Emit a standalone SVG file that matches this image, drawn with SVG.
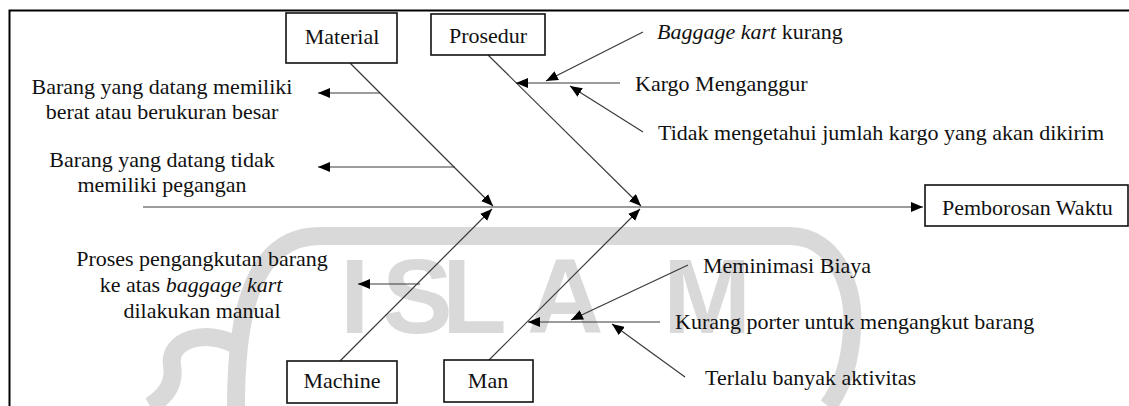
<svg xmlns="http://www.w3.org/2000/svg" width="1129" height="406" viewBox="0 0 1129 406">
<style>
.t{font-family:"Liberation Serif","Times New Roman",serif;font-size:22px;fill:#111}
.c{text-anchor:middle}
.i{font-style:italic}
.box{fill:#fff;stroke:#111;stroke-width:1.6}
.ln{stroke:#3a3a3a;stroke-width:1.2;fill:none}
.wm{fill:none;stroke:#d9d9d9;stroke-width:18}
</style>
<defs>
<marker id="ah" viewBox="0 0 12 10" refX="12" refY="5" markerWidth="12" markerHeight="10" orient="auto" markerUnits="userSpaceOnUse">
<path d="M0,0 L12,5 L0,10 z" fill="#000"/>
</marker>
</defs>
<rect width="1129" height="406" fill="#fff"/>
<g id="watermark">
<path class="wm" d="M236,406 C236,320 250,236 320,236 L790,236 C836,236 856,290 852,330 C850,365 840,390 828,406"/>
<path class="wm" d="M236,345 C205,328 168,340 172,365 C176,388 160,400 150,406"/>
<text x="340 382 442 527 663" y="333" style="font-family:'Liberation Sans',Arial,sans-serif;font-weight:bold;font-size:106px;fill:#d9d9d9">ISLAM</text>
</g>
<path d="M9.5,406 V10.5 H1129" fill="none" stroke="#000" stroke-width="2"/>
<g id="connectors">
<path class="ln" d="M143,207 H923" marker-end="url(#ah)"/>
<path class="ln" d="M350,63 L493,206" marker-end="url(#ah)"/>
<path class="ln" d="M488,55 L641,206" marker-end="url(#ah)"/>
<path class="ln" d="M340,361 L492,209" marker-end="url(#ah)"/>
<path class="ln" d="M489,360 L640,209" marker-end="url(#ah)"/>
<path class="ln" d="M380,93 H318" marker-end="url(#ah)"/>
<path class="ln" d="M455,167 H318" marker-end="url(#ah)"/>
<path class="ln" d="M620,83 H516" marker-end="url(#ah)"/>
<path class="ln" d="M643,32 L546,81" marker-end="url(#ah)"/>
<path class="ln" d="M643,132 L570,86" marker-end="url(#ah)"/>
<path class="ln" d="M420,284 H358" marker-end="url(#ah)"/>
<path class="ln" d="M660,322 H528" marker-end="url(#ah)"/>
<path class="ln" d="M688,265 L571,320" marker-end="url(#ah)"/>
<path class="ln" d="M685,377 L612,324" marker-end="url(#ah)"/>
</g>
<g id="material"><rect class="box" x="286" y="13" width="111" height="50"/><text class="t c" x="342" y="44">Material</text></g>
<g id="prosedur"><rect class="box" x="431" y="14" width="114" height="41"/><text class="t c" x="488" y="43">Prosedur</text></g>
<g id="machine"><rect class="box" x="287" y="361" width="110" height="42"/><text class="t c" x="342" y="388">Machine</text></g>
<g id="man"><rect class="box" x="444" y="360" width="89" height="42"/><text class="t c" x="488" y="388">Man</text></g>
<g id="effect"><rect class="box" x="925" y="185" width="203" height="41"/><text class="t" x="942" y="215">Pemborosan Waktu</text></g>
<g id="cause-material-1"><text class="t c" x="162" y="94">Barang yang datang memiliki</text><text class="t c" x="162" y="119">berat atau berukuran besar</text></g>
<g id="cause-material-2"><text class="t c" x="162" y="167">Barang yang datang tidak</text><text class="t c" x="162" y="192">memiliki pegangan</text></g>
<g id="cause-machine"><text class="t c" x="202" y="266">Proses pengangkutan barang</text><text class="t c" x="191" y="292">ke atas <tspan class="i">baggage kart</tspan></text><text class="t c" x="202" y="318">dilakukan manual</text></g>
<g id="cause-prosedur"><text class="t" x="635" y="91">Kargo Menganggur</text></g>
<g id="sub-baggage"><text class="t" x="657" y="39"><tspan class="i">Baggage kart</tspan> kurang</text></g>
<g id="sub-tidak"><text class="t" x="658" y="140">Tidak mengetahui jumlah kargo yang akan dikirim</text></g>
<g id="cause-man"><text class="t" x="675" y="329">Kurang porter untuk mengangkut barang</text></g>
<g id="sub-meminimasi"><text class="t" x="703" y="273">Meminimasi Biaya</text></g>
<g id="sub-terlalu"><text class="t" x="705" y="385">Terlalu banyak aktivitas</text></g>
</svg>
